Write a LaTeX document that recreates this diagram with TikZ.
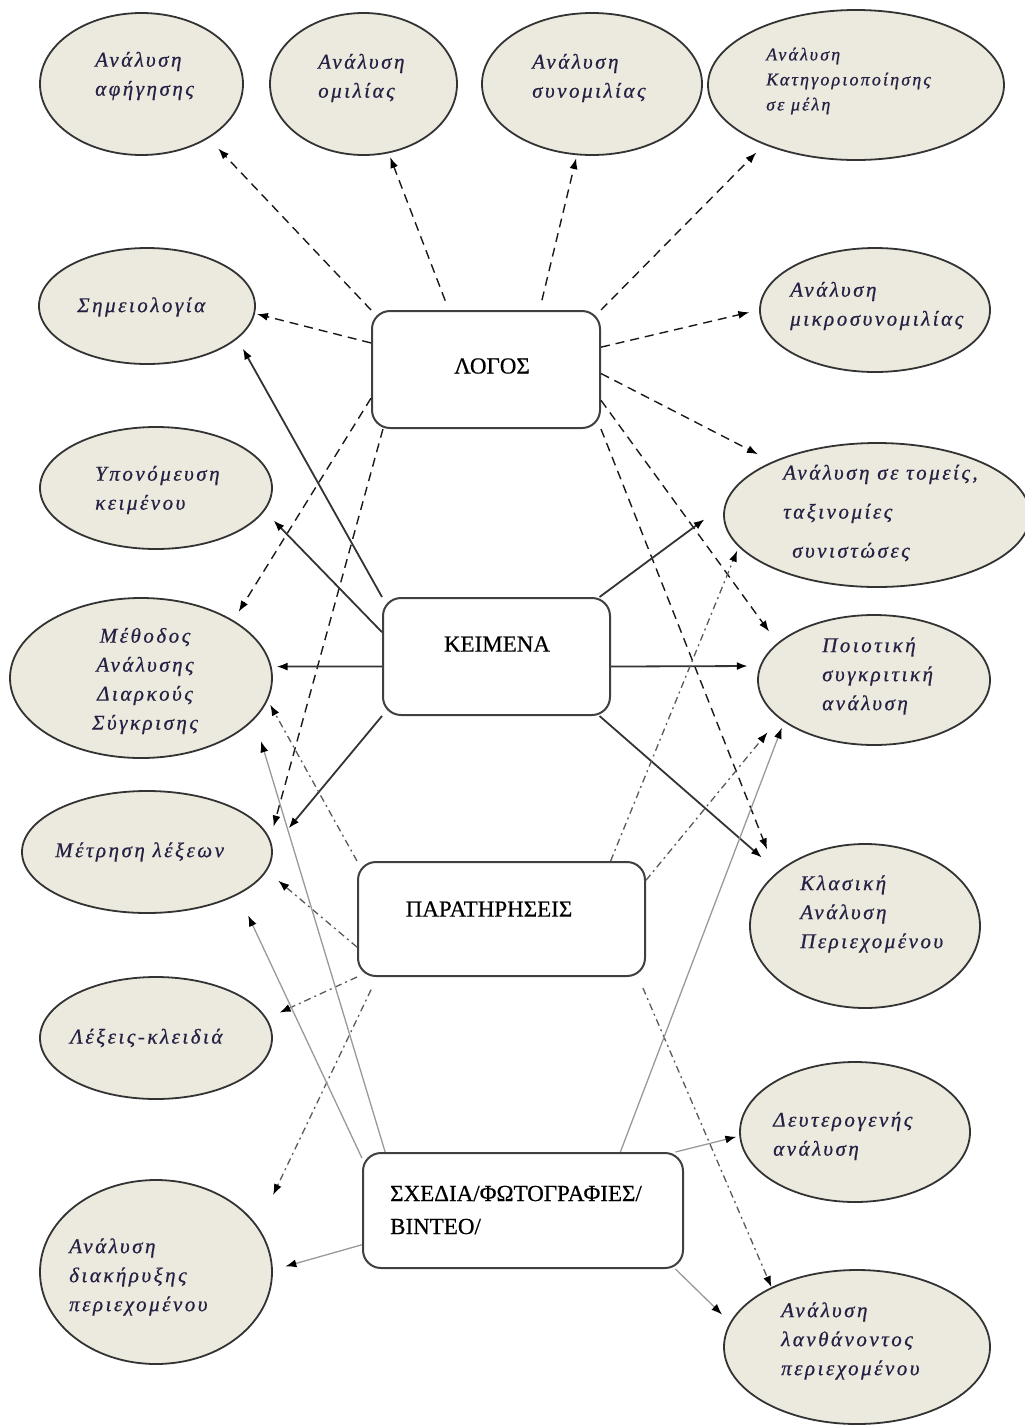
\documentclass[tikz,border=0pt]{standalone}
\usepackage{fontspec}
\setmainfont{Liberation Serif}
\newfontfamily\ovalfont[LetterSpace=12.0,FakeBold=0.6]{Liberation Serif}
\newfontfamily\boxfont[FakeBold=0.5]{Liberation Serif}
\usetikzlibrary{shapes.geometric,arrows.meta}
\definecolor{ovalfill}{RGB}{236,234,222}
\definecolor{ovaltext}{RGB}{38,32,68}
\begin{document}
\begin{tikzpicture}[x=1pt,y=-1pt,
  oval/.style={ellipse, draw=black!80, line width=1.8pt, fill=ovalfill, inner sep=0pt},
  box/.style={rectangle, rounded corners=18pt, draw=black!75, line width=2pt, fill=white, inner sep=0pt},
  ovaltxt/.style={anchor=west, align=left, text=ovaltext, inner sep=0pt,
    font={\ovalfont\itshape\fontsize{21}{29}\selectfont}},
  smalltxt/.style={ovaltxt, font={\ovalfont\itshape\fontsize{18}{25}\selectfont}},
  boxtxt/.style={inner sep=0pt, font={\boxfont\fontsize{23}{33}\selectfont}},
  tip/.style={-{Latex[length=11pt,width=8pt,color=black]}},
  lg/.style={tip, black!90, line width=1.4pt, dash pattern=on 9pt off 6pt},
  kl/.style={tip, black!80, line width=1.8pt},
  pl/.style={tip, black!65, line width=1.3pt, dash pattern=on 7pt off 4pt on 2pt off 4pt},
  sl/.style={tip, black!40, line width=1.3pt}]
\useasboundingbox (0,0) rectangle (1025,1425);

% outcome ellipses
\node[oval, minimum width=203pt, minimum height=142pt] (e1) at (141.5,84) {};
\node[oval, minimum width=187pt, minimum height=142pt] (e2) at (363.5,84) {};
\node[oval, minimum width=220pt, minimum height=142pt] (e3) at (592,84) {};
\node[oval, minimum width=296pt, minimum height=150pt] (e4) at (856,85) {};
\node[oval, minimum width=216pt, minimum height=116pt] (e5) at (147,306) {};
\node[oval, minimum width=230pt, minimum height=124pt] (e6) at (875,310) {};
\node[oval, minimum width=232pt, minimum height=122pt] (e7) at (156,488) {};
\node[oval, minimum width=306pt, minimum height=144pt] (e8) at (877,515) {};
\node[oval, minimum width=262pt, minimum height=160pt] (e9) at (141,678) {};
\node[oval, minimum width=232pt, minimum height=130pt] (e10) at (874,680) {};
\node[oval, minimum width=250pt, minimum height=122pt] (e11) at (147,852) {};
\node[oval, minimum width=230pt, minimum height=164pt] (e12) at (865,926) {};
\node[oval, minimum width=232pt, minimum height=122pt] (e13) at (156,1038) {};
\node[oval, minimum width=230pt, minimum height=140pt] (e14) at (855,1132) {};
\node[oval, minimum width=232pt, minimum height=184pt] (e15) at (156,1272) {};
\node[oval, minimum width=266pt, minimum height=154pt] (e16) at (857,1347) {};

% ellipse labels
\node[ovaltxt] (t1) at (95,76) {Ανάλυση\\αφήγησης};
\node[ovaltxt] (t2) at (318,78) {Ανάλυση\\ομιλίας};
\node[ovaltxt] (t3) at (532,78) {Ανάλυση\\συνομιλίας};
\node[smalltxt] (t4) at (766,81) {Ανάλυση\\Κατηγοριοποίησης\\σε μέλη};
\node[ovaltxt] (t5) at (77,307) {Σημειολογία};
\node[ovaltxt] (t6) at (790,306) {Ανάλυση\\μικροσυνομιλίας};
\node[ovaltxt] (t7) at (95,490) {Υπονόμευση\\κειμένου};
\node[ovaltxt, font={\ovalfont\itshape\fontsize{21}{39}\selectfont}] (t8) at (783,513)
  {Ανάλυση σε τομείς,\\ταξινομίες\\\hspace*{9pt}συνιστώσες};
\node[ovaltxt, anchor=center, align=center] (t9) at (145,681) {Μέθοδος\\Ανάλυσης\\Διαρκούς\\Σύγκρισης};
\node[ovaltxt] (t10) at (822,676) {Ποιοτική\\συγκριτική\\ανάλυση};
\node[ovaltxt] (t11) at (55,852) {Μέτρηση λέξεων};
\node[ovaltxt] (t12) at (800,914) {Κλασική\\Ανάλυση\\Περιεχομένου};
\node[ovaltxt] (t13) at (70,1038) {Λέξεις-κλειδιά};
\node[ovaltxt] (t14) at (773,1136) {Δευτερογενής\\ανάλυση};
\node[ovaltxt] (t15) at (69,1277) {Ανάλυση\\διακήρυξης\\περιεχομένου};
\node[ovaltxt] (t16) at (781,1341) {Ανάλυση\\λανθάνοντος\\περιεχομένου};

% data source boxes
\node[box, minimum width=228pt, minimum height=117pt] (b1) at (486,369.5) {};
\node[box, minimum width=227pt, minimum height=117pt] (b2) at (496.5,656.5) {};
\node[box, minimum width=287pt, minimum height=114pt] (b3) at (501.5,919) {};
\node[box, minimum width=320pt, minimum height=115pt] (b4) at (523,1210.5) {};
\node[boxtxt] (bt1) at (492,366) {ΛΟΓΟΣ};
\node[boxtxt] (bt2) at (497,644) {ΚΕΙΜΕΝΑ};
\node[boxtxt] (bt3) at (489,909) {ΠΑΡΑΤΗΡΗΣΕΙΣ};
\node[boxtxt, anchor=west, align=left] (bt4) at (390,1210) {ΣΧΕΔΙΑ/ΦΩΤΟΓΡΑΦΙΕΣ/\\ΒΙΝΤΕΟ/};

% ΛΟΓΟΣ
\draw[lg, shorten >=14pt] (b1.north west) -- (e1.-39);
\draw[lg, shorten <=10pt, shorten >=4pt] (b1.122) -- (e2.-70);
\draw[lg, shorten <=10pt, shorten >=3pt] (b1.48) -- (e3.-102);
\draw[lg, shorten >=11pt] (b1.north east) -- (e4.-147);
\draw[lg, shorten >=2pt] (b1.167) -- (e5.-4);
\draw[lg, shorten >=10pt] (b1.11) -- (e6.180);
\draw[lg, shorten >=16pt] (b1.-2) -- (e8.153);
\draw[lg, shorten >=14pt] (b1.-15) -- (e10.159);
\draw[lg, shorten >=25pt] (b1.south east) -- (e12.149);
\draw[lg, shorten >=10pt] (b1.-166) -- (e9.32);
\draw[lg, shorten >=13pt] (b1.-150) -- (e11.6);

% ΚΕΙΜΕΝΑ
\draw[kl, shorten >=11pt] (b2.north west) -- (e5.-20);
\draw[kl, shorten >=13pt] (b2.168) -- (e7.-12);
\draw[kl, shorten >=5pt] (b2.-175) -- (e9.5);
\draw[kl, shorten >=25pt] (b2.south west) -- (e11.2);
\draw[kl, shorten >=25pt] (b2.30) -- (e8.176);
\draw[kl, shorten >=12pt] (b2.-5) -- (e10.173);
\draw[kl, shorten >=21pt] (b2.-30) -- (e12.148);

% ΠΑΡΑΤΗΡΗΣΕΙΣ
\draw[pl, shorten >=5pt] (b3.north west) -- (e9.-10);
\draw[pl, shorten >=15pt] (b3.-169) -- (e11.-9);
\draw[pl, shorten >=14pt] (b3.south west) -- (e13.10);
\draw[pl, shorten <=14pt, shorten >=35pt] (b3.-155) -- (e15.24);
\draw[pl, shorten >=4pt] (b3.28) -- (e8.-167);
\draw[pl, shorten >=18pt] (b3.15) -- (e10.-158);
\draw[pl, shorten <=12pt] (b3.-23) -- (e16.145);

% ΣΧΕΔΙΑ/ΦΩΤΟΓΡΑΦΙΕΣ/ΒΙΝΤΕΟ
\draw[sl, shorten >=23pt] (b4.157) -- (e9.-20);
\draw[sl, shorten >=23pt] (b4.162) -- (e11.-25);
\draw[sl, shorten >=13pt] (b4.-168) -- (e15.1);
\draw[sl, shorten >=6pt] (b4.31) -- (e10.-155);
\draw[sl, shorten >=3pt] (b4.21) -- (e14.182);
\draw[sl, shorten >=11pt] (b4.-21) -- (e16.169);
\end{tikzpicture}
\end{document}
